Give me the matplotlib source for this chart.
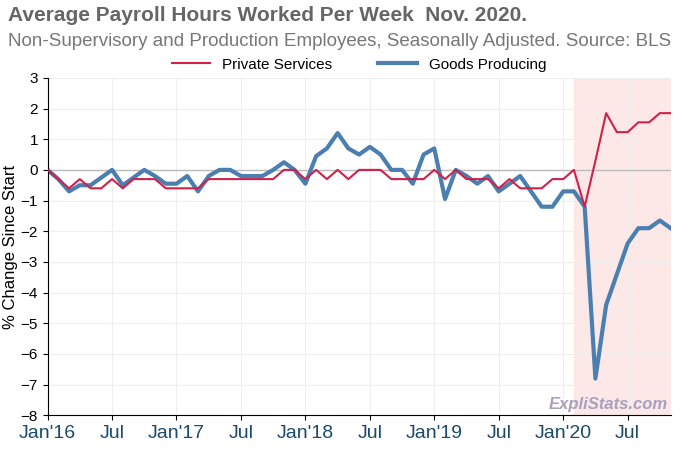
import numpy as np
import matplotlib
matplotlib.use("Agg")
import matplotlib.pyplot as plt

plt.rcParams["font.family"] = ["Liberation Sans", "DejaVu Sans"]

months = np.arange(59)  # Jan 2016 .. Nov 2020
private_services = [0, -0.3, -0.6, -0.3, -0.6, -0.6, -0.3, -0.6, -0.3, -0.3, -0.3, -0.6,
                    -0.6, -0.6, -0.6, -0.3, -0.3, -0.3, -0.3, -0.3, -0.3, -0.3, 0, 0,
                    -0.3, 0, -0.3, 0, -0.3, 0, 0, 0, -0.3, -0.3, -0.3, -0.3,
                    0, -0.3, 0, -0.3, -0.3, -0.3, -0.6, -0.3, -0.6, -0.6, -0.6, -0.3,
                    -0.3, 0, -1.2, 0.3, 1.85, 1.23, 1.23, 1.55, 1.55, 1.85, 1.85]
goods_producing = [0, -0.3, -0.7, -0.5, -0.5, -0.25, 0, -0.5, -0.25, 0, -0.2, -0.45,
                   -0.45, -0.2, -0.7, -0.2, 0, 0, -0.2, -0.2, -0.2, 0, 0.25, 0,
                   -0.45, 0.45, 0.7, 1.2, 0.7, 0.5, 0.75, 0.5, 0, 0, -0.45, 0.5,
                   0.7, -0.95, 0, -0.2, -0.45, -0.2, -0.7, -0.45, -0.2, -0.7, -1.2, -1.2,
                   -0.7, -0.7, -1.2, -6.8, -4.4, -3.4, -2.4, -1.9, -1.9, -1.65, -1.9]
tick_pos = [0, 6, 12, 18, 24, 30, 36, 42, 48, 54]
tick_labels = ["Jan'16", "Jul", "Jan'17", "Jul", "Jan'18", "Jul", "Jan'19", "Jul", "Jan'20", "Jul"]

fig = plt.figure(figsize=(7, 4.5), dpi=100)
ax = fig.add_axes([0.068, 0.077, 0.89, 0.75])
ax.axvspan(49, 58, color="#fde8e8", zorder=0)
ax.axhline(0, color="#bbbbbb", lw=1, zorder=1)
ax.plot(months, private_services, color="#d0214a", lw=1.5, label="Private Services", zorder=3)
ax.plot(months, goods_producing, color="#4a7fb0", lw=3, label="Goods Producing", zorder=2)
ax.set_xlim(0, 58)
ax.set_ylim(-8, 3)
ax.set_yticks(range(-8, 4))
ax.set_xticks(tick_pos)
ax.set_xticklabels(tick_labels, fontsize=14, color="#1a4a6e")
ax.tick_params(axis="y", labelsize=11)
ax.grid(color="#eeeeee", lw=0.8)
ax.set_axisbelow(True)
for s in ["top", "right"]:
    ax.spines[s].set_visible(False)
ax.set_ylabel("% Change Since Start", fontsize=12, labelpad=2)
ax.legend(loc="lower center", bbox_to_anchor=(0.5, 1.0), ncol=2, frameon=False,
          fontsize=11, handlelength=2.5, borderaxespad=0, columnspacing=3)
fig.text(0.012, 0.953, "Average Payroll Hours Worked Per Week  Nov. 2020.", fontsize=15,
         fontweight="bold", color="#666666")
fig.text(0.012, 0.898, "Non-Supervisory and Production Employees, Seasonally Adjusted. Source: BLS",
         fontsize=13.5, color="#777777")
ax.text(0.995, 0.01, "ExpliStats.com", transform=ax.transAxes, ha="right", va="bottom",
        fontsize=12, fontstyle="italic", fontweight="bold", color="#a9a0c0")
fig.savefig("out.png")
